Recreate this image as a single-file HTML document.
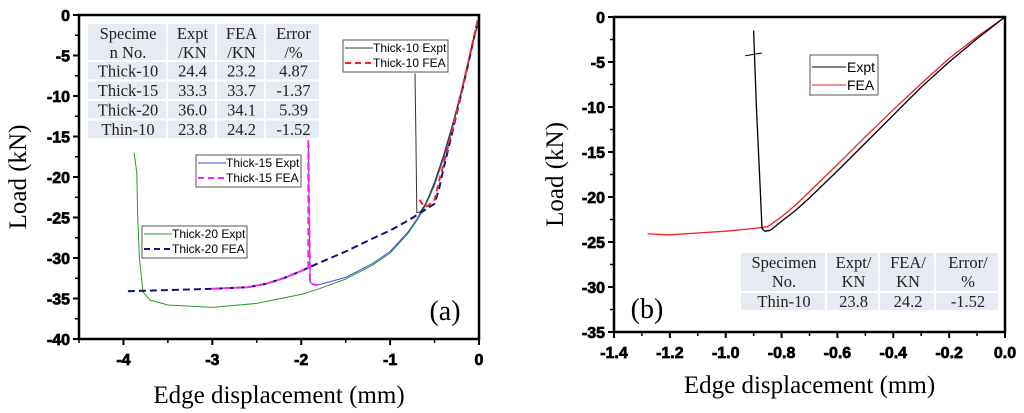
<!DOCTYPE html>
<html><head><meta charset="utf-8"><style>
body{margin:0;background:#fff;width:1024px;height:413px;overflow:hidden}
svg{display:block}
</style></head><body>
<svg id="s" width="1024" height="413"></svg>
<script>
// Panel (a) data
const aXTicks=[-4,-3,-2,-1,0];
const aYTicks=[0,-5,-10,-15,-20,-25,-30,-35,-40];
const t20ExptX=[-3.88,-3.85,-3.84,-3.82,-3.78,-3.7,-3.5,-3.0,-2.5,-2,-1.8,-1.5,-1.2,-1,-0.8,-0.7,-0.6,-0.5,-0.4,-0.3,-0.2,-0.1,0];
const t20ExptY=[-17,-19.5,-25,-30,-34.2,-35.2,-35.8,-36.1,-35.6,-34.5,-33.8,-32.6,-30.9,-29.4,-27,-25.4,-23.5,-21,-17.8,-14,-9.8,-5,-0.5];
const t20FeaX=[-3.95,-3.0,-2.6,-2.4,-2.2,-2.0,-1.8,-1.5,-1.2,-1,-0.8,-0.7,-0.6,-0.5,-0.45,-0.4,-0.3,-0.2,-0.1,0];
const t20FeaY=[-34.1,-33.8,-33.6,-33.2,-32.5,-31.6,-30.6,-29.2,-27.6,-26.6,-25.4,-24.7,-24,-23.3,-21.5,-19,-14.5,-9.8,-5,0];
const t15ExptX=[-1.92,-1.91,-1.9,-1.85,-1.8,-1.5,-1.2,-1,-0.8,-0.7,-0.6,-0.5,-0.4,-0.3,-0.2,-0.1,0];
const t15ExptY=[-15.5,-25,-33,-33.3,-33.3,-32.4,-30.7,-29.2,-26.8,-25.2,-23.3,-20.8,-17.6,-13.8,-9.6,-4.8,-0.5];
const t15FeaX=[-3.0,-2.6,-2.4,-2.2,-2.0,-1.92,-1.92,-1.9,-1.85,-1.8];
const t15FeaY=[-33.8,-33.6,-33.2,-32.5,-31.6,-31.2,-15.3,-33.1,-33.3,-33.3];
const t10ExptX=[-0.72,-0.71,-0.7,-0.66,-0.6,-0.55,-0.5,-0.4,-0.3,-0.2,-0.1,0];
const t10ExptY=[-7.2,-15,-24.4,-24.3,-23.3,-22,-20.6,-17.4,-13.6,-9.4,-4.8,-0.5];
const t10FeaX=[-0.67,-0.62,-0.58,-0.5,-0.48,-0.45,-0.4,-0.3,-0.2,-0.1,0];
const t10FeaY=[-22.8,-23.6,-23.6,-22.8,-22,-20.5,-18.5,-14.2,-9.6,-4.8,0];
// Panel (b) data
const bXTicks=[-1.4,-1.2,-1.0,-0.8,-0.6,-0.4,-0.2,0.0];
const bYTicks=[0,-5,-10,-15,-20,-25,-30,-35];
const bExptX=[-0.9,-0.89,-0.875,-0.87,-0.86,-0.84,-0.8,-0.75,-0.7,-0.6,-0.5,-0.4,-0.3,-0.2,-0.1,0];
const bExptY=[-1.5,-10,-20,-23.5,-23.8,-23.7,-22.7,-21.5,-20.1,-17.1,-14,-10.9,-7.8,-5,-2.4,0];
const bFeaX=[-1.28,-1.2,-1.1,-1.0,-0.9,-0.85,-0.8,-0.75,-0.7,-0.6,-0.5,-0.4,-0.3,-0.2,-0.1,0];
const bFeaY=[-24.1,-24.2,-24,-23.8,-23.5,-23.3,-22.2,-20.9,-19.4,-16.4,-13.3,-10.3,-7.4,-4.6,-2.2,0];

const S=document.getElementById('s');
const NS='http://www.w3.org/2000/svg';
const FT={tk:['Liberation Sans','bold',16],ti:['Liberation Serif','normal',25],tb:['Liberation Serif','normal',16.5],lg:['Liberation Sans','normal',12]};
function mk(tag,at,parent){const e=document.createElementNS(NS,tag);for(const k in at)e.setAttribute(k,at[k]);(parent||S).appendChild(e);return e;}
function txt(x,y,s,cls,anchor,parent){const f=FT[cls];const e=mk('text',{x:x,y:y,'font-family':f[0]+', sans-serif','font-weight':f[1],'font-size':f[2],fill:cls==='tb'?'#222':'#000','text-anchor':anchor||'middle'},parent);if(cls==='tk'){e.setAttribute('stroke','#000');e.setAttribute('stroke-width','0.7');}e.textContent=s;return e;}

function panel(P){
  const g=mk('g',{});
  
  
  const X=v=>P.x0+(v-P.xmin)/(P.xmax-P.xmin)*(P.x1-P.x0);
  const Y=v=>P.y0+(P.ymax-v)/(P.ymax-P.ymin)*(P.y1-P.y0);
  P.xt.forEach((v,i)=>{
    const l=mk('line',{x1:X(v),x2:X(v),y1:P.y1,y2:P.y1+6,stroke:'#000','stroke-width':2},g);
    
    const t=txt(X(v),P.y1+26,P.xfmt(v),'tk','middle',g);
    
    if(i<P.xt.length-1){const m=(v+P.xt[i+1])/2;mk('line',{x1:X(m),x2:X(m),y1:P.y1,y2:P.y1+4,stroke:'#000','stroke-width':1.5},g);}
  });
  if(P.xmin<P.xt[0]){const m=P.xt[0]-(P.xt[1]-P.xt[0])/2;if(m>=P.xmin)mk('line',{x1:X(m),x2:X(m),y1:P.y1,y2:P.y1+4,stroke:'#000','stroke-width':1.5},g);}
  P.yt.forEach((v,i)=>{
    const l=mk('line',{x1:P.x0-6,x2:P.x0,y1:Y(v),y2:Y(v),stroke:'#000','stroke-width':2},g);
    
    const t=txt(P.x0-9,Y(v)+6,String(v),'tk','end',g);
    
    if(i<P.yt.length-1){const m=(v+P.yt[i+1])/2;mk('line',{x1:P.x0-4,x2:P.x0,y1:Y(m),y2:Y(m),stroke:'#000','stroke-width':1.5},g);}
  });
  P.series.forEach(s=>{
    const d=s.x.map((v,i)=>(i?'L':'M')+X(v).toFixed(1)+','+Y(s.y[i]).toFixed(1)).join('');
    const p=mk('path',{d:d,fill:'none',stroke:s.c,'stroke-width':s.w||1,'stroke-dasharray':s.dash||'none','stroke-linejoin':'round'},g);
    
  });
  const f=mk('rect',{x:P.x0,y:P.y0,width:P.x1-P.x0,height:P.y1-P.y0,fill:'none',stroke:'#000','stroke-width':2.5},g);
  
  const xt=txt((P.x0+P.x1)/2,P.xtY,'Edge displacement (mm)','ti','middle',g);
  
  const yt=txt(0,0,'Load (kN)','ti','middle',g);
  yt.setAttribute('transform','translate('+P.ytX+','+((P.y0+P.y1)/2)+') rotate(-90)');
  
  return {X,Y,g};
}

const A=panel({name:'panel-a',x0:79,x1:479,y0:15,y1:339,xmin:-4.5,xmax:0,ymin:-40,ymax:0,xt:aXTicks,yt:aYTicks,xfmt:v=>String(v),xtY:403,ytX:26,
 series:[
  {n:'thick-20-expt',x:t20ExptX,y:t20ExptY,c:'#2a9a2a'},
  {n:'thick-15-expt',x:t15ExptX,y:t15ExptY,c:'#3344ee'},
  {n:'thick-20-fea',x:t20FeaX,y:t20FeaY,c:'#101080',w:2,dash:'7,4'},
  {n:'thick-15-fea',x:t15FeaX,y:t15FeaY,c:'#ff22ee',w:2,dash:'7,4'},
  {n:'thick-10-expt',x:t10ExptX,y:t10ExptY,c:'#333'},
  {n:'thick-10-fea',x:t10FeaX,y:t10FeaY,c:'#ff2020',w:2,dash:'6,4'}]});
const B=panel({name:'panel-b',x0:614,x1:1005,y0:17,y1:332,xmin:-1.4,xmax:0,ymin:-35,ymax:0,xt:bXTicks,yt:bYTicks,xfmt:v=>v.toFixed(1),xtY:393,ytX:563,
 series:[
  {n:'fea-curve',x:bFeaX,y:bFeaY,c:'#ee2222',w:1.3},
  {n:'expt-curve',x:bExptX,y:bExptY,c:'#000',w:1.3}]});
mk('path',{d:'M'+B.X(-0.93)+','+B.Y(-4.3)+'L'+B.X(-0.87)+','+B.Y(-4.0),stroke:'#000','stroke-width':1});

function legend(x,y,w,items,name){
  const g=mk('g',{});
  
  mk('rect',{x:x,y:y,width:w,height:items.length*15+2,fill:'#fff',stroke:'#555','stroke-width':1},g);
  items.forEach((it,i)=>{
    const yy=y+8+i*15;
    mk('line',{x1:x+2,x2:x+30,y1:yy,y2:yy,stroke:it.c,'stroke-width':it.dash?2:1,'stroke-dasharray':it.dash||'none'},g);
    const t=txt(x+30,yy+4,it.t,'lg','start',g);
    
  });
}
legend(343,40,105,[{t:'Thick-10 Expt',c:'#333'},{t:'Thick-10 FEA',c:'#ff2020',dash:'6,4'}],'legend-thick-10');
legend(196,155,105,[{t:'Thick-15 Expt',c:'#3344ee'},{t:'Thick-15 FEA',c:'#ff22ee',dash:'6,4'}],'legend-thick-15');
legend(142,226,105,[{t:'Thick-20 Expt',c:'#2a9a2a'},{t:'Thick-20 FEA',c:'#101080',dash:'6,4'}],'legend-thick-20');
(function(){const g=mk('g',{});
 mk('rect',{x:810,y:55,width:68,height:40,fill:'#fff',stroke:'#555','stroke-width':1},g);
 mk('line',{x1:812,x2:846,y1:67,y2:67,stroke:'#000'},g);mk('line',{x1:812,x2:846,y1:85,y2:85,stroke:'#ee2222'},g);
 txt(847,72,'Expt','lg','start',g).setAttribute('font-size','14');txt(847,90,'FEA','lg','start',g).setAttribute('font-size','14');})();

function table(x,y,cols,rows,hh,rh,name){
  const g=mk('g',{});
  
  let cx=x;
  cols.forEach((w,ci)=>{
    mk('rect',{x:cx,y:y,width:w-2,height:hh-2,fill:'#e6ebf3'},g);
    rows[0][ci].forEach((s,k)=>txt(cx+w/2,y+15+k*19,s,'tb','middle',g));
    for(let r=1;r<rows.length;r++){
      const ry=y+hh+(r-1)*rh;
      mk('rect',{x:cx,y:ry,width:w-2,height:rh-2,fill:'#e6ebf3'},g);
      txt(cx+w/2,ry+rh-5,rows[r][ci],'tb','middle',g);
    }
    cx+=w;
  });
}
table(88,24,[80,49,49,55],[[['Specime','n No.'],['Expt','/KN'],['FEA','/KN'],['Error','/%']],
 ['Thick-10','24.4','23.2','4.87'],['Thick-15','33.3','33.7','-1.37'],['Thick-20','36.0','34.1','5.39'],['Thin-10','23.8','24.2','-1.52']],38,19.5,'results-table-a');
table(741,253,[86,53,56,64],[[['Specimen','No.'],['Expt/','KN'],['FEA/','KN'],['Error/','%']],['Thin-10','23.8','24.2','-1.52']],40,19,'results-table-b');
const la=txt(445,320,'(a)','ti','middle');la.setAttribute('font-size','28');
const lb=txt(647,318,'(b)','ti','middle');lb.setAttribute('font-size','28');
</script>
</body></html>
